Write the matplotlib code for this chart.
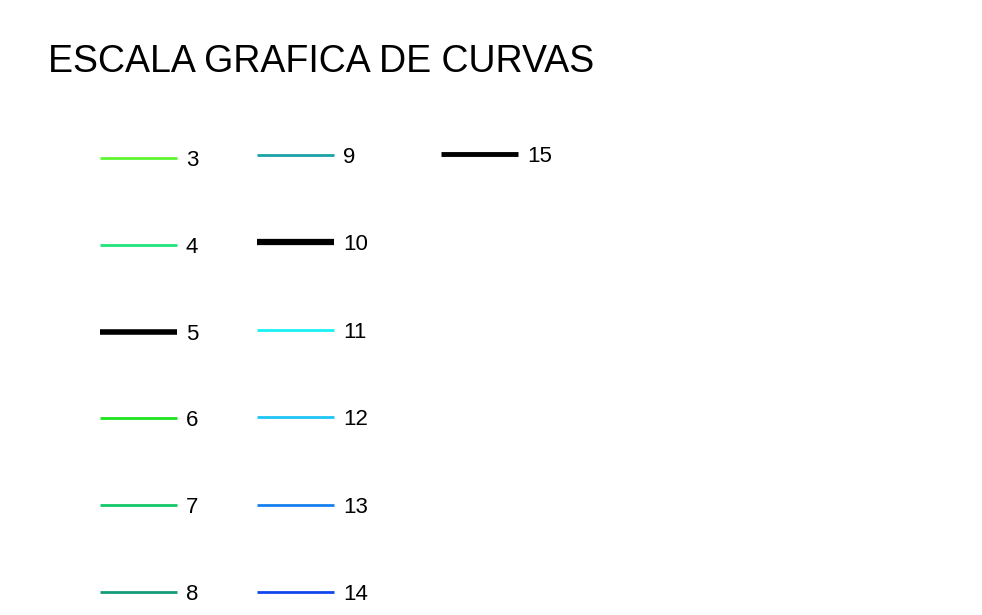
import matplotlib
matplotlib.use("Agg")
import matplotlib.pyplot as plt

plt.rcParams['font.family'] = ['Liberation Sans', 'DejaVu Sans']

# curve scale: label, colour and line width of each sample
labels = ['3', '4', '5', '6', '7', '8', '9', '10', '11', '12', '13', '14', '15']
colors = ['#5ef531', '#20e47c', '#000000', '#1ee41e', '#12c866', '#139c78',
          '#1aa2a8', '#000000', '#18f2f2', '#1ec4f4', '#1480f0', '#1046ee', '#000000']
widths = [2, 2, 4, 2, 2, 2, 2, 4.5, 2, 2, 2, 2, 3.5]
title = 'ESCALA GRAFICA DE CURVAS'

# layout (pixels)
col_x = [100, 257, 441]
col_y0 = [158, 155, 154]
col_step = [86.8, 87.4, 87.4]
seg_len = 77
per_col = 6

fig = plt.figure(figsize=(9.82, 6.15), dpi=100)
ax = fig.add_axes([0, 0, 1, 1])
ax.set_xlim(0, 982)
ax.set_ylim(615, 0)
ax.axis('off')

ax.text(48, 72, title, fontsize=27, va='baseline', ha='left', color='black')

for i, (lab, c, w) in enumerate(zip(labels, colors, widths)):
    col = i // per_col
    row = i % per_col
    x0 = col_x[col]
    y = col_y0[col] + row * col_step[col]
    ax.plot([x0, x0 + seg_len], [y, y], color=c, lw=w, solid_capstyle='butt')
    ax.text(x0 + seg_len + 9, y + 8, lab, fontsize=16, va='baseline', ha='left')

fig.savefig('out.png', dpi=100)
